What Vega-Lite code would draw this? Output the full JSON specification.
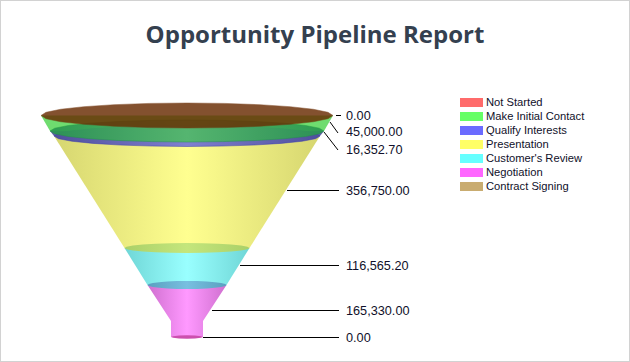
{"$schema":"https://vega.github.io/schema/vega-lite/v6.json","width":630,"height":362,"autosize":"none","padding":0,"background":"white","config":{"view":{"stroke":"#d2d2d2","strokeWidth":2}},"title":{"text":"Opportunity Pipeline Report","font":"Open Sans","fontSize":24,"fontWeight":"bold","color":"#34404f","anchor":"middle","baseline":"alphabetic","offset":-43,"dy":24},"datasets":{"stages":[{"stage":"Not Started","amount":0,"edge":149,"edgeDepth":115.5,"labelDepth":115.5,"textDepth":115.5,"labelX":159,"lineEnd":154},{"stage":"Make Initial Contact","amount":45000,"edge":143,"edgeDepth":122,"labelDepth":133,"textDepth":131.5,"labelX":159,"lineEnd":151},{"stage":"Qualify Interests","amount":16352.7,"edge":137,"edgeDepth":132,"labelDepth":150,"textDepth":149.5,"labelX":159,"lineEnd":151},{"stage":"Presentation","amount":356750,"edge":100,"edgeDepth":190.5,"labelDepth":190.5,"textDepth":190.5,"labelX":159,"lineEnd":152},{"stage":"Customer's Review","amount":116565.2,"edge":53,"edgeDepth":265.5,"labelDepth":265.5,"textDepth":265.5,"labelX":159,"lineEnd":152},{"stage":"Negotiation","amount":165330,"edge":25,"edgeDepth":310.5,"labelDepth":310.5,"textDepth":310.5,"labelX":159,"lineEnd":152},{"stage":"Contract Signing","amount":0,"edge":16,"edgeDepth":337.5,"labelDepth":337.5,"textDepth":337.5,"labelX":159,"lineEnd":152}],"funnel":[
{"s":"greenBody","d":115.5,"l":-146,"r":146},{"s":"greenBody","d":131,"l":-137,"r":137},
{"s":"blueBody","d":131,"l":-137,"r":137},{"s":"blueBody","d":136,"l":-133,"r":133},
{"s":"yellowBody","d":136,"l":-133,"r":133},{"s":"yellowBody","d":248,"l":-62.5,"r":62.5},
{"s":"cyanBody","d":248,"l":-62.5,"r":62.5},{"s":"cyanBody","d":285,"l":-39.5,"r":39.5},
{"s":"pinkBody","d":285,"l":-39.5,"r":39.5},{"s":"pinkBody","d":321,"l":-16,"r":16},{"s":"pinkBody","d":337,"l":-16,"r":16},
{"s":"brownDisk","d":103,"l":0,"r":0},{"s":"brownDisk","d":103.4,"l":-37.8,"r":37.8},{"s":"brownDisk","d":104.7,"l":-73,"r":73},{"s":"brownDisk","d":106.7,"l":-103.2,"r":103.2},{"s":"brownDisk","d":109.25,"l":-126.4,"r":126.4},{"s":"brownDisk","d":112.3,"l":-141,"r":141},{"s":"brownDisk","d":115.5,"l":-146,"r":146},{"s":"brownDisk","d":118.7,"l":-141,"r":141},{"s":"brownDisk","d":121.75,"l":-126.4,"r":126.4},{"s":"brownDisk","d":124.3,"l":-103.2,"r":103.2},{"s":"brownDisk","d":126.3,"l":-73,"r":73},{"s":"brownDisk","d":127.6,"l":-37.8,"r":37.8},{"s":"brownDisk","d":128,"l":0,"r":0},
{"s":"greenDisk","d":120,"l":0,"r":0},{"s":"greenDisk","d":120.4,"l":-35.5,"r":35.5},{"s":"greenDisk","d":121.5,"l":-68.5,"r":68.5},{"s":"greenDisk","d":123.2,"l":-96.9,"r":96.9},{"s":"greenDisk","d":125.5,"l":-118.6,"r":118.6},{"s":"greenDisk","d":128.2,"l":-132.3,"r":132.3},{"s":"greenDisk","d":131,"l":-137,"r":137},{"s":"greenDisk","d":133.8,"l":-132.3,"r":132.3},{"s":"greenDisk","d":136.5,"l":-118.6,"r":118.6},{"s":"greenDisk","d":138.8,"l":-96.9,"r":96.9},{"s":"greenDisk","d":140.5,"l":-68.5,"r":68.5},{"s":"greenDisk","d":141.6,"l":-35.5,"r":35.5},{"s":"greenDisk","d":142,"l":0,"r":0},
{"s":"blueDisk","d":125.5,"l":0,"r":0},{"s":"blueDisk","d":125.9,"l":-34.4,"r":34.4},{"s":"blueDisk","d":126.9,"l":-66.5,"r":66.5},{"s":"blueDisk","d":128.6,"l":-94,"r":94},{"s":"blueDisk","d":130.75,"l":-115.2,"r":115.2},{"s":"blueDisk","d":133.3,"l":-128.5,"r":128.5},{"s":"blueDisk","d":136,"l":-133,"r":133},{"s":"blueDisk","d":138.7,"l":-128.5,"r":128.5},{"s":"blueDisk","d":141.25,"l":-115.2,"r":115.2},{"s":"blueDisk","d":143.4,"l":-94,"r":94},{"s":"blueDisk","d":145.1,"l":-66.5,"r":66.5},{"s":"blueDisk","d":146.1,"l":-34.4,"r":34.4},{"s":"blueDisk","d":146.5,"l":0,"r":0},
{"s":"yellowDisk","d":243,"l":0,"r":0},{"s":"yellowDisk","d":243.2,"l":-16.2,"r":16.2},{"s":"yellowDisk","d":243.7,"l":-31.3,"r":31.3},{"s":"yellowDisk","d":244.5,"l":-44.2,"r":44.2},{"s":"yellowDisk","d":245.5,"l":-54.1,"r":54.1},{"s":"yellowDisk","d":246.7,"l":-60.4,"r":60.4},{"s":"yellowDisk","d":248,"l":-62.5,"r":62.5},{"s":"yellowDisk","d":249.3,"l":-60.4,"r":60.4},{"s":"yellowDisk","d":250.5,"l":-54.1,"r":54.1},{"s":"yellowDisk","d":251.5,"l":-44.2,"r":44.2},{"s":"yellowDisk","d":252.3,"l":-31.3,"r":31.3},{"s":"yellowDisk","d":252.8,"l":-16.2,"r":16.2},{"s":"yellowDisk","d":253,"l":0,"r":0},
{"s":"cyanDisk","d":281,"l":0,"r":0},{"s":"cyanDisk","d":281.1,"l":-10.2,"r":10.2},{"s":"cyanDisk","d":281.5,"l":-19.8,"r":19.8},{"s":"cyanDisk","d":282.2,"l":-27.9,"r":27.9},{"s":"cyanDisk","d":283,"l":-34.2,"r":34.2},{"s":"cyanDisk","d":284,"l":-38.2,"r":38.2},{"s":"cyanDisk","d":285,"l":-39.5,"r":39.5},{"s":"cyanDisk","d":286,"l":-38.2,"r":38.2},{"s":"cyanDisk","d":287,"l":-34.2,"r":34.2},{"s":"cyanDisk","d":287.8,"l":-27.9,"r":27.9},{"s":"cyanDisk","d":288.5,"l":-19.8,"r":19.8},{"s":"cyanDisk","d":288.9,"l":-10.2,"r":10.2},{"s":"cyanDisk","d":289,"l":0,"r":0},
{"s":"pinkDisk","d":335.3,"l":0,"r":0},{"s":"pinkDisk","d":335.5,"l":-8,"r":8},{"s":"pinkDisk","d":336.15,"l":-13.9,"r":13.9},{"s":"pinkDisk","d":337,"l":-16,"r":16},{"s":"pinkDisk","d":337.85,"l":-13.9,"r":13.9},{"s":"pinkDisk","d":338.5,"l":-8,"r":8},{"s":"pinkDisk","d":338.7,"l":0,"r":0}]},
"layer":[
{"data":{"name":"funnel"},"encoding":{"y":{"field":"d","type":"quantitative","scale":{"domain":[362,0],"nice":false,"zero":false},"axis":null},"x":{"field":"l","type":"quantitative","scale":{"domain":[-187,443],"nice":false,"zero":false},"axis":null},"x2":{"field":"r"}},
"layer":[
{"transform":[{"filter":"datum.s=='pinkBody'"}],"mark":{"type":"area","orient":"horizontal","color":{"gradient":"linear","x1":0,"x2":1,"y1":0,"y2":0,"stops":[{"offset":0,"color":"#cf6fcf"},{"offset":0.5,"color":"#ff99ff"},{"offset":1,"color":"#cf6fcf"}]}}},
{"transform":[{"filter":"datum.s=='cyanBody'"}],"mark":{"type":"area","orient":"horizontal","color":{"gradient":"linear","x1":0,"x2":1,"y1":0,"y2":0,"stops":[{"offset":0,"color":"#6fd6d6"},{"offset":0.5,"color":"#99ffff"},{"offset":1,"color":"#6fd6d6"}]}}},
{"transform":[{"filter":"datum.s=='yellowBody'"}],"mark":{"type":"area","orient":"horizontal","color":{"gradient":"linear","x1":0,"x2":1,"y1":0,"y2":0,"stops":[{"offset":0,"color":"#d6d670"},{"offset":0.5,"color":"#ffff90"},{"offset":1,"color":"#d6d670"}]}}},
{"transform":[{"filter":"datum.s=='blueBody'"}],"mark":{"type":"area","orient":"horizontal","color":"#5f5fa8"}},
{"transform":[{"filter":"datum.s=='greenBody'"}],"mark":{"type":"area","orient":"horizontal","color":"#6fdc6f"}},
{"transform":[{"filter":"datum.s=='pinkDisk'"}],"mark":{"type":"area","orient":"horizontal","color":"#cc4fae"}},
{"transform":[{"filter":"datum.s=='cyanDisk'"}],"mark":{"type":"area","orient":"horizontal","color":{"gradient":"linear","x1":0,"x2":1,"y1":0,"y2":0,"stops":[{"offset":0,"color":"#5aa0c0"},{"offset":0.5,"color":"#78bfe0"},{"offset":1,"color":"#5aa0c0"}]}}},
{"transform":[{"filter":"datum.s=='yellowDisk'"}],"mark":{"type":"area","orient":"horizontal","color":{"gradient":"linear","x1":0,"x2":1,"y1":0,"y2":0,"stops":[{"offset":0,"color":"#aad068"},{"offset":0.5,"color":"#c4e67c"},{"offset":1,"color":"#aad068"}]}}},
{"transform":[{"filter":"datum.s=='blueDisk'"}],"mark":{"type":"area","orient":"horizontal","stroke":"#3a3ab0","strokeWidth":0.5,"color":{"gradient":"linear","x1":0,"x2":1,"y1":0,"y2":0,"stops":[{"offset":0,"color":"#4f4f9c"},{"offset":0.5,"color":"#8080d0"},{"offset":1,"color":"#4f4f9c"}]}}},
{"transform":[{"filter":"datum.s=='greenDisk'"}],"mark":{"type":"area","orient":"horizontal","opacity":0.92,"stroke":"#1f9a3f","strokeWidth":0.5,"color":{"gradient":"linear","x1":0,"x2":1,"y1":0,"y2":0,"stops":[{"offset":0,"color":"#2a9650"},{"offset":0.5,"color":"#52ba68"},{"offset":1,"color":"#2a9650"}]}}},
{"transform":[{"filter":"datum.s=='brownDisk'"}],"mark":{"type":"area","orient":"horizontal","opacity":0.82,"color":"#692c02","stroke":"#6e3008","strokeWidth":0.5}}
]},
{"data":{"name":"stages"},"layer":[
{"mark":{"type":"rule","color":"#000000","strokeWidth":1},"encoding":{"x":{"field":"edge","type":"quantitative"},"x2":{"field":"lineEnd"},"y":{"field":"edgeDepth","type":"quantitative"},"y2":{"field":"labelDepth"}}},
{"mark":{"type":"text","align":"left","baseline":"middle","font":"Liberation Sans","fontSize":12.7,"color":"#10102a"},"encoding":{"x":{"field":"labelX","type":"quantitative"},"y":{"field":"textDepth","type":"quantitative"},"text":{"field":"amount","type":"quantitative","format":",.2f"}}},
{"mark":{"type":"point","filled":true,"size":0,"opacity":1},"encoding":{"x":{"field":"labelX","type":"quantitative"},"y":{"field":"labelDepth","type":"quantitative"},"color":{"field":"stage","type":"nominal","scale":{"domain":["Not Started","Make Initial Contact","Qualify Interests","Presentation","Customer's Review","Negotiation","Contract Signing"],"range":["#ff6b6b","#66ff66","#6b6bff","#ffff66","#66ffff","#ff66ff","#c9ac70"]},"legend":{"orient":"none","legendX":460,"legendY":97,"title":null,"symbolType":"M-1,-0.4H1V0.4H-1Z","symbolSize":529,"symbolStrokeWidth":0,"symbolOpacity":1,"labelFont":"Liberation Sans","labelFontSize":11.2,"labelColor":"#10102a","labelOffset":3,"rowPadding":2,"labelLimit":200,"clipHeight":11}}}}
]}
]}
